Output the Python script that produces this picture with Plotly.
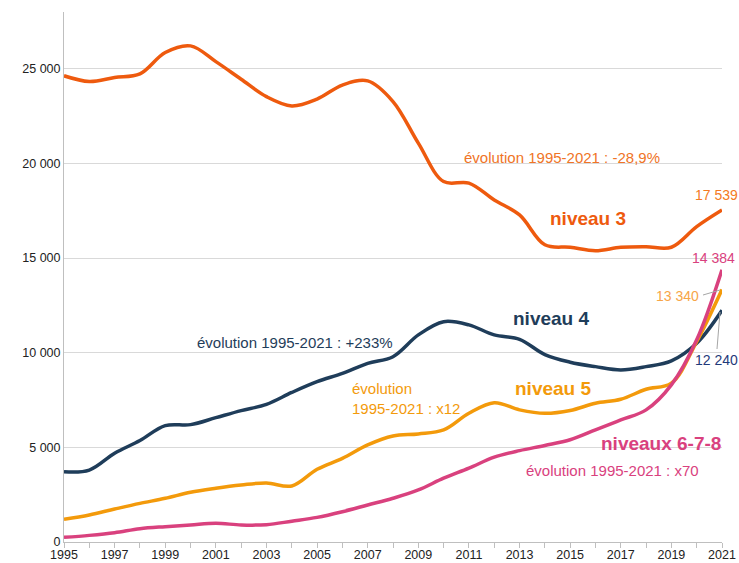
import plotly.graph_objects as go

years = list(range(1995, 2022))

niveau_3 = [24630, 24330, 24540, 24730, 25860, 26210, 25380, 24450, 23530, 23040,
            23400, 24140, 24360, 23270, 21070, 19040, 18960, 18070, 17280, 15700,
            15570, 15390, 15570, 15600, 15570, 16660, 17539]
niveau_4 = [3715, 3800, 4690, 5360, 6150, 6200, 6570, 6940, 7270, 7900,
            8470, 8910, 9440, 9790, 10940, 11640, 11470, 10940, 10710, 9900,
            9500, 9265, 9090, 9265, 9570, 10500, 12240]
niveau_5 = [1200, 1430, 1740, 2040, 2310, 2630, 2840, 3010, 3120, 2960,
            3840, 4420, 5130, 5600, 5710, 5920, 6800, 7360, 6980, 6800,
            6950, 7330, 7540, 8070, 8390, 10590, 13340]
niveaux_678 = [245, 350, 490, 700, 810, 900, 990, 900, 915, 1100,
               1300, 1600, 1955, 2310, 2750, 3370, 3900, 4480, 4830, 5100,
               5400, 5920, 6450, 6980, 8300, 10680, 14384]

tick_labels = [str(y) if (y - 1995) % 2 == 0 else "" for y in years]

C3 = "#EE5A0E"
C4 = "#1F3D5A"
C5 = "#F39A0B"
C6 = "#D9417E"

fig = go.Figure()
for vals, col in [(niveau_3, C3), (niveau_4, C4), (niveau_5, C5), (niveaux_678, C6)]:
    fig.add_trace(go.Scatter(x=years, y=vals, mode="lines",
                             line=dict(color=col, width=3.5, shape="spline", smoothing=1.0),
                             hoverinfo="skip", showlegend=False, cliponaxis=False))

F = "Liberation Sans, Arial, sans-serif"
ann = []
def add(x, y, text, color, size=15, bold=False, xanchor="center", align="center"):
    t = f"<b>{text}</b>" if bold else text
    ann.append(dict(x=x, y=y, xref="paper", yref="paper", text=t, showarrow=False,
                    font=dict(family=F, size=size, color=color), xanchor=xanchor,
                    yanchor="middle", align=align))

W, H = 739, 563
L, R, T, B = 64, 17, 12, 21
pw, ph = W - L - R, H - T - B
def px(xp):
    return (xp - L) / pw
def py(yp):
    return 1 - (yp - T) / ph

add(px(562), py(157), "évolution 1995-2021 : -28,9%", "#F07426", 15)
add(px(588), py(218), "niveau 3", C3, 19, True)
add(px(716), py(195), "17 539", "#F47A22", 14)
add(px(713), py(258), "14 384", C6, 14)
add(px(677), py(296), "13 340", "#F7A548", 14)
add(px(716), py(360), "12 240", "#1F3A7A", 14)
add(px(551), py(318), "niveau 4", C4, 19, True)
add(px(295), py(342), "évolution 1995-2021 : +233%", C4, 15)
add(px(350), py(398), "évolution<br>1995-2021 : x12", C5, 15, False, "left", "left")
add(px(553), py(388), "niveau 5", C5, 19, True)
add(px(661), py(443), "niveaux 6-7-8", C6, 19, True)
add(px(612), py(470), "évolution 1995-2021 : x70", C6, 15)

shapes = [
    dict(type="line", xref="paper", yref="paper", x0=px(703), y0=py(295), x1=px(720), y1=py(290),
         line=dict(color="#A6A6A6", width=1)),
    dict(type="line", xref="paper", yref="paper", x0=px(717), y0=py(349), x1=px(720), y1=py(312),
         line=dict(color="#A6A6A6", width=1)),
]

fig.update_layout(
    width=W, height=H,
    margin=dict(l=L, r=R, t=T, b=B, autoexpand=False),
    plot_bgcolor="white", paper_bgcolor="white",
    separators=", ",
    font=dict(family=F, size=12, color="#222222"),
    annotations=ann, shapes=shapes,
    xaxis=dict(range=[1995, 2021], tickmode="array", tickvals=years, ticktext=tick_labels,
               ticks="outside", ticklen=5, tickcolor="#BFBFBF", showgrid=False,
               showline=True, linecolor="#BFBFBF", linewidth=1, zeroline=False,
               automargin=False, ticklabelstandoff=-4,
               tickfont=dict(size=12.5, color="#222222")),
    yaxis=dict(range=[0, 28000], tickvals=[0, 5000, 10000, 15000, 20000, 25000],
               tickformat=",d", showgrid=True, gridcolor="#D9D9D9", gridwidth=1,
               showline=True, linecolor="#BFBFBF", linewidth=1, zeroline=False,
               automargin=False, ticks="", tickfont=dict(size=12.5, color="#222222")),
)

fig.write_html("out.html", config={"displayModeBar": False},
               post_script="document.body.style.margin='0';document.body.style.overflow='hidden';")
